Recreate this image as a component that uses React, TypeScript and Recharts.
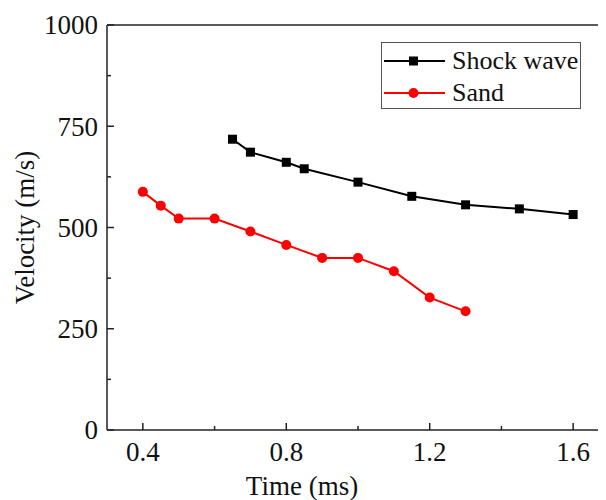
import { Legend, Line, LineChart, ReferenceLine, XAxis, YAxis } from 'recharts'

const shockTime = [0.65, 0.7, 0.8, 0.85, 1.0, 1.15, 1.3, 1.45, 1.6]
const shockVelocity = [718, 686, 661, 645, 612, 577, 556, 546, 532]

const sandTime = [0.4, 0.45, 0.5, 0.6, 0.7, 0.8, 0.9, 1.0, 1.1, 1.2, 1.3]
const sandVelocity = [588, 554, 522, 522, 490, 457, 425, 425, 392, 327, 293]

const xTicks = [0.4, 0.6, 0.8, 1.0, 1.2, 1.4, 1.6]
const xMajor = [0.4, 0.8, 1.2, 1.6]
const yTicks = [0, 125, 250, 375, 500, 625, 750, 875, 1000]
const yMajor = [0, 250, 500, 750, 1000]

const shockData = shockTime.map((t, i) => ({ t, v: shockVelocity[i] }))
const sandData = sandTime.map((t, i) => ({ t, v: sandVelocity[i] }))

const FONT = '"Liberation Serif", "Times New Roman", serif'
const AXIS = '#222'
const X_MARGIN = 12
const Y_MARGIN = 9

function XTick(props: any) {
  const { x, y, payload } = props
  const major = xMajor.includes(payload.value)
  const ay = y - X_MARGIN
  return (
    <g>
      <line x1={x} x2={x} y1={ay} y2={ay - (major ? 7 : 4)} stroke={AXIS} strokeWidth={1.5} />
      {major && (
        <text x={x} y={y} dy="0.71em" textAnchor="middle" fontSize={27} fontFamily={FONT} fill="#111">
          {String(payload.value)}
        </text>
      )}
    </g>
  )
}

function YTick(props: any) {
  const { x, y, payload } = props
  const major = yMajor.includes(payload.value)
  const ax = x + Y_MARGIN
  return (
    <g>
      <line x1={ax} x2={ax + (major ? 7 : 4)} y1={y} y2={y} stroke={AXIS} strokeWidth={1.5} />
      {major && (
        <text x={x} y={y} dy="0.35em" textAnchor="end" fontSize={27} fontFamily={FONT} fill="#111">
          {String(payload.value)}
        </text>
      )}
    </g>
  )
}

function SquareDot(props: any) {
  const { cx, cy, index } = props
  return <rect key={'s' + index} x={cx - 4.5} y={cy - 4.5} width={9} height={9} fill="#000" />
}

function CircleDot(props: any) {
  const { cx, cy, index } = props
  return <circle key={'c' + index} cx={cx} cy={cy} r={5} fill="#ff0000" />
}

function LegendBox() {
  const items = [
    { name: 'Shock wave', color: '#000', square: true },
    { name: 'Sand', color: '#ff0000', square: false },
  ]
  return (
    <div
      style={{
        border: '1px solid #555',
        background: '#fff',
        width: 200,
        height: 67,
        paddingTop: 2,
        boxSizing: 'border-box',
        fontFamily: FONT,
        fontSize: 26,
        color: '#111',
      }}
    >
      {items.map((it) => (
        <div key={it.name} style={{ display: 'flex', alignItems: 'center', height: 32 }}>
          <svg width={70} height={20} style={{ flex: 'none' }}>
            <line x1={2} x2={63} y1={10} y2={10} stroke={it.color} strokeWidth={2} />
            {it.square ? (
              <rect x={27} y={5.5} width={9} height={9} fill={it.color} />
            ) : (
              <circle cx={31.5} cy={10} r={5} fill={it.color} />
            )}
          </svg>
          <span style={{ lineHeight: '26px' }}>{it.name}</span>
        </div>
      ))}
    </div>
  )
}

export default function App() {
  return (
    <div style={{ width: 598, height: 492, overflow: 'hidden', background: '#fff' }}>
      <LineChart width={620} height={492} margin={{ top: 17, right: 19, left: 0, bottom: 0 }}>
        <XAxis
          type="number"
          dataKey="t"
          domain={[0.3, 1.7]}
          ticks={xTicks}
          interval={0}
          allowDataOverflow
          height={70}
          tickSize={0}
          tickMargin={X_MARGIN}
          tick={<XTick />}
          axisLine={{ stroke: AXIS, strokeWidth: 1.5 }}
          label={{
            content: (p: any) => (
              <text
                x={p.viewBox.x + 195}
                y={p.viewBox.y + 65}
                textAnchor="middle"
                fontSize={27}
                fontFamily={FONT}
                fill="#111"
              >
                Time (ms)
              </text>
            ),
          }}
        />
        <YAxis
          type="number"
          dataKey="v"
          domain={[0, 1000]}
          ticks={yTicks}
          interval={0}
          width={99}
          tickSize={0}
          tickMargin={Y_MARGIN}
          tick={<YTick />}
          axisLine={{ stroke: AXIS, strokeWidth: 1.5 }}
          label={{
            content: (p: any) => {
              const cx = p.viewBox.x + 17
              const cy = p.viewBox.y + p.viewBox.height / 2
              return (
                <text
                  x={cx}
                  y={cy}
                  transform={`rotate(-90 ${cx} ${cy})`}
                  textAnchor="middle"
                  dominantBaseline="central"
                  fontSize={27}
                  fontFamily={FONT}
                  fill="#111"
                >
                  Velocity (m/s)
                </text>
              )
            },
          }}
        />
        <ReferenceLine y={1000} stroke={AXIS} strokeWidth={1.5} ifOverflow="extendDomain" />
        <Line
          data={shockData}
          dataKey="v"
          name="Shock wave"
          type="linear"
          stroke="#000"
          strokeWidth={2}
          dot={SquareDot}
          isAnimationActive={false}
        />
        <Line
          data={sandData}
          dataKey="v"
          name="Sand"
          type="linear"
          stroke="#ff0000"
          strokeWidth={2}
          dot={CircleDot}
          isAnimationActive={false}
        />
        <Legend
          layout="vertical"
          align="center"
          verticalAlign="middle"
          content={() => <LegendBox />}
          wrapperStyle={{ top: 34, left: 373, width: 'auto' }}
        />
      </LineChart>
    </div>
  )
}
